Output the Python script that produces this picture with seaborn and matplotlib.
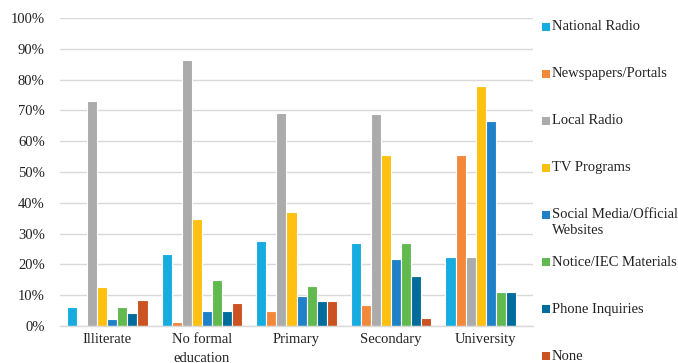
import matplotlib
matplotlib.use("Agg")
import matplotlib.pyplot as plt
from matplotlib.patches import Rectangle
import seaborn as sns
import pandas as pd

categories = ["Illiterate", "No formal\neducation", "Primary", "Secondary", "University"]
series = ["National Radio", "Newspapers/Portals", "Local Radio", "TV Programs",
          "Social Media/Official\nWebsites", "Notice/IEC Materials", "Phone Inquiries", "None"]
national_radio = [6.3, 23.4, 27.5, 27.1, 22.3]
newspapers = [0.0, 1.3, 4.9, 6.8, 55.6]
local_radio = [72.9, 86.5, 69.3, 68.9, 22.3]
tv_programs = [12.6, 34.6, 37.1, 55.5, 77.8]
social_media = [2.2, 4.9, 9.9, 21.7, 66.7]
notice_iec = [6.3, 14.8, 13.0, 27.0, 11.1]
phone = [4.1, 4.9, 8.1, 16.3, 11.1]
none = [8.3, 7.4, 8.1, 2.7, 0.0]
colors = ["#16ACE0", "#F4883A", "#ABABAB", "#FFC010", "#1F82C8", "#62BA4E", "#006C9C", "#CB5321"]

values = [national_radio, newspapers, local_radio, tv_programs, social_media, notice_iec, phone, none]
rows = []
for s, vals in zip(series, values):
    for c, v in zip(categories, vals):
        rows.append({"Category": c, "Series": s, "Value": v / 100.0})
df = pd.DataFrame(rows)

sns.set_theme(style="white")
plt.rcParams["font.family"] = ["Liberation Serif", "DejaVu Serif"]

FS = 10.5
fig = plt.figure(figsize=(6.78, 3.63), dpi=100)
ax = fig.add_axes([60 / 678, 1 - 326 / 363, 473 / 678, 308 / 363])

sns.barplot(data=df, x="Category", y="Value", hue="Series", order=categories,
            hue_order=series, palette=colors, width=0.85, ax=ax,
            edgecolor="white", linewidth=0.8, legend=False, errorbar=None, saturation=1)

ax.set_ylim(0, 1.0)
ax.set_xlim(-0.5, len(categories) - 0.5)
ax.set_yticks([i / 10 for i in range(11)])
ax.set_yticklabels([f"{i * 10}%" for i in range(11)])
ax.yaxis.grid(True, color="#D9D9D9", linewidth=1)
ax.set_axisbelow(True)
for sp in ["top", "right", "left"]:
    ax.spines[sp].set_visible(False)
ax.spines["bottom"].set_color("#D9D9D9")
ax.spines["bottom"].set_linewidth(1)
ax.tick_params(axis="y", length=0, pad=11, labelsize=FS, labelcolor="#222222")
ax.tick_params(axis="x", length=0, pad=5, labelsize=FS, labelcolor="#222222")
for t in ax.get_xticklabels():
    t.set_linespacing(1.65)
ax.set_xlabel("")
ax.set_ylabel("")

# legend on the right, evenly spaced entries
W, H = 678, 363
y0 = 27
step = 47
for i, (s, col) in enumerate(zip(series, colors)):
    yc = y0 + i * step
    fig.patches.append(Rectangle((542 / W, 1 - (yc + 4) / H), 8 / W, 8 / H,
                                 transform=fig.transFigure, facecolor=col,
                                 edgecolor="none"))
    lines = s.split("\n")
    for j, ln in enumerate(lines):
        fig.text(552 / W, 1 - (yc + j * 16) / H, ln, ha="left", va="center",
                 fontsize=FS, color="#222222")

fig.savefig("out.png", dpi=100)
